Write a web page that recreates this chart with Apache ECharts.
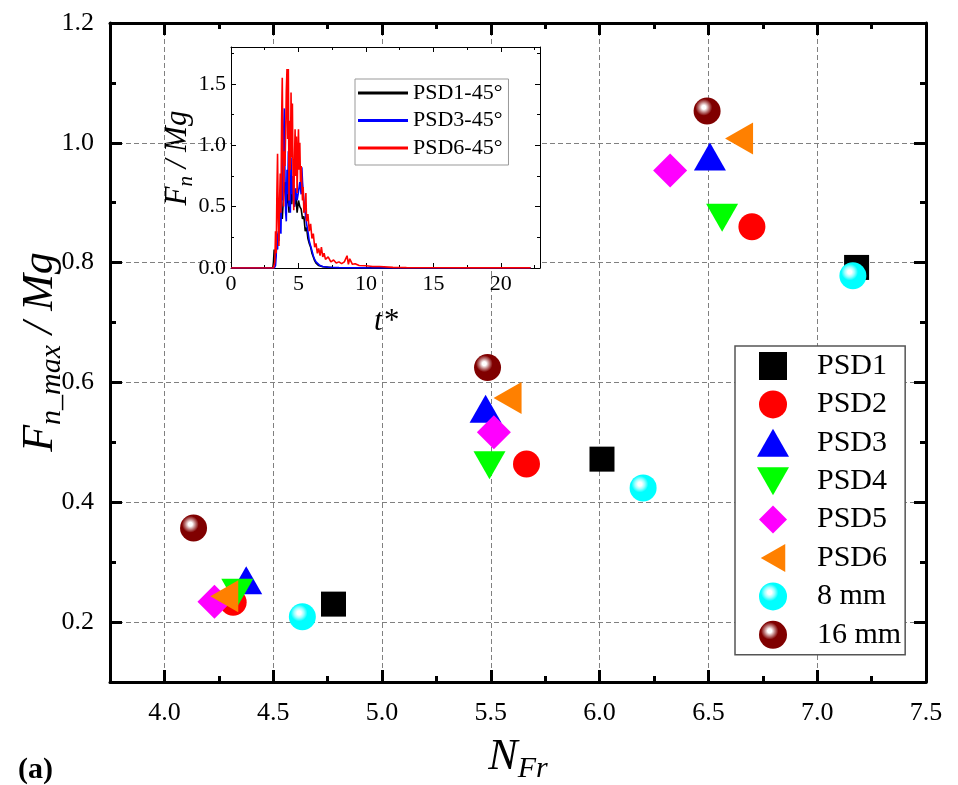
<!DOCTYPE html>
<html>
<head>
<meta charset="utf-8">
<script src="https://cdn.jsdelivr.net/npm/echarts@6/dist/echarts.min.js"></script>
<style>html,body{margin:0;padding:0;background:#fff}#c{width:958px;height:785px}</style>
</head>
<body>
<div id="c"></div>
<script>
// ---------- data ----------
const seriesNames = ['PSD1','PSD2','PSD3','PSD4','PSD5','PSD6','8 mm','16 mm'];
const psd1 = [[4.777,0.230],[6.011,0.472],[7.181,0.792]];
const psd2 = [[4.316,0.233],[5.664,0.464],[6.700,0.860]];
const psd3 = [[4.376,0.270],[5.476,0.556],[6.507,0.977]];
const psd4 = [[4.335,0.249],[5.494,0.462],[6.563,0.875]];
const psd5 = [[4.230,0.234],[5.514,0.517],[6.324,0.954]];
const psd6 = [[4.275,0.243],[5.577,0.574],[6.641,1.007]];
const d8mm = [[4.634,0.209],[6.200,0.424],[7.164,0.778]];
const d16mm = [[4.134,0.357],[5.485,0.625],[6.494,1.053]];

const xMajor = [4.0,4.5,5.0,5.5,6.0,6.5,7.0,7.5];
const xMinor = [3.75,4.25,4.75,5.25,5.75,6.25,6.75,7.25];
const yMajor = [0.2,0.4,0.6,0.8,1.0,1.2];
const yMinor = [0.1,0.3,0.5,0.7,0.9,1.1];

const insetNames = ['PSD1-45°','PSD3-45°','PSD6-45°'];
const insetXMajor = [0,5,10,15,20];
const insetXMinor = [2.5,7.5,12.5,17.5,22.5];
const insetYMajor = [0,0.5,1.0,1.5];
const insetYMinor = [0.25,0.75,1.25,1.75];

const curvePSD1 = [[0,0],[3.1,0],[3.15,0.05],[3.2,0.15],[3.25,0.04],[3.3,0.1],[3.4,0.18],[3.5,0.25],[3.6,0.35],[3.7,0.5],[3.8,0.4],[3.9,0.6],[4.0,0.7],[4.1,0.5],[4.2,0.62],[4.3,0.45],[4.4,0.68],[4.5,0.52],[4.6,0.67],[4.7,0.5],[4.8,0.6],[4.9,0.45],[5.0,0.55],[5.1,0.5],[5.2,0.48],[5.3,0.4],[5.4,0.42],[5.5,0.3],[5.6,0.33],[5.7,0.24],[5.8,0.2],[5.9,0.17],[6.0,0.12],[6.1,0.09],[6.2,0.06],[6.3,0.04],[6.5,0.02],[6.8,0.01],[7.5,0.003],[22.2,0]];
const curvePSD3 = [[0,0],[3.2,0],[3.3,0.02],[3.35,0.1],[3.4,0.28],[3.45,0.15],[3.5,0.3],[3.55,0.22],[3.6,0.5],[3.65,0.35],[3.7,0.28],[3.75,0.62],[3.8,0.9],[3.85,0.55],[3.9,1.1],[3.95,1.3],[4.0,0.75],[4.05,0.45],[4.1,0.38],[4.15,0.8],[4.2,0.6],[4.25,0.95],[4.3,0.5],[4.35,0.7],[4.4,0.45],[4.45,0.9],[4.5,0.6],[4.55,0.75],[4.6,0.55],[4.65,0.68],[4.7,0.5],[4.8,0.65],[4.9,0.55],[5.0,0.62],[5.1,0.7],[5.2,0.6],[5.25,0.82],[5.3,0.7],[5.4,0.55],[5.5,0.45],[5.6,0.36],[5.7,0.3],[5.8,0.22],[5.9,0.18],[6.0,0.14],[6.1,0.1],[6.2,0.07],[6.3,0.05],[6.4,0.035],[6.6,0.02],[6.8,0.012],[7.2,0.006],[8,0.003],[10,0.001],[22.2,0]];
const curvePSD6 = [[0,0],[3.0,0],[3.15,0],[3.25,0.05],[3.3,0.3],[3.35,0.12],[3.4,0.6],[3.45,0.93],[3.5,0.4],[3.55,0.18],[3.6,0.55],[3.65,0.77],[3.7,0.45],[3.75,1.2],[3.8,1.55],[3.85,0.9],[3.9,0.5],[3.95,0.95],[4.0,0.83],[4.05,1.1],[4.1,1.45],[4.15,1.62],[4.2,1.05],[4.25,1.62],[4.3,0.55],[4.35,1.2],[4.4,0.8],[4.45,1.43],[4.5,0.9],[4.55,1.34],[4.6,0.7],[4.65,0.47],[4.7,0.85],[4.75,1.13],[4.8,0.75],[4.85,1.07],[4.9,0.61],[4.95,0.9],[5.0,1.13],[5.05,0.8],[5.1,1.02],[5.15,0.7],[5.2,0.83],[5.3,0.55],[5.35,0.66],[5.4,0.45],[5.5,0.5],[5.55,0.61],[5.6,0.38],[5.7,0.44],[5.8,0.3],[5.9,0.36],[6.0,0.24],[6.1,0.28],[6.2,0.17],[6.3,0.2],[6.4,0.12],[6.5,0.16],[6.6,0.1],[6.7,0.17],[6.8,0.09],[6.9,0.12],[7.0,0.07],[7.2,0.09],[7.4,0.05],[7.6,0.065],[7.8,0.04],[8.0,0.05],[8.2,0.035],[8.4,0.05],[8.6,0.1],[8.7,0.03],[8.8,0.075],[9.0,0.03],[9.2,0.035],[9.5,0.02],[10,0.018],[10.5,0.012],[11,0.012],[12,0.005],[13,0.003],[15,0.002],[18,0.001],[22.2,0.001]];

// ---------- styling ----------
const FONT = "'Liberation Serif','Times New Roman',serif";
function measure(text, font){
  const ctx = document.createElement('canvas').getContext('2d');
  ctx.font = font; return ctx.measureText(text).width;
}
function titleGroup(x, y, rot, parts){
  let total = 0;
  parts.forEach(p => { p.font = (p.bold?'bold ':'italic ') + p.s + 'px ' + FONT; p.w = measure(p.t, p.font); total += p.w; });
  let cur = -total/2;
  const children = parts.map(p => {
    const el = {type:'text', x: cur, y: p.dy||0, style:{text:p.t, font:p.font, fill:'#000', align:'left', verticalAlign:'middle'}};
    cur += p.w; return el;
  });
  return {type:'group', x:x, y:y, rotation:rot, children:children, z:100};
}
function ax(o){
  return {
    type:'value', gridIndex:o.g, position:o.pos, min:o.min, max:o.max, z:o.z||0,
    axisLine:{show:!!o.line, onZero:false, lineStyle:{color:'#000', width:o.lw||1}},
    axisTick:{show:true, inside:true, length:o.len, customValues:o.ticks, lineStyle:{color:'#000', width:o.tw}},
    axisLabel:{show:!!o.labels, customValues:o.ticks, margin:o.margin||8, formatter:o.fmt, color:'#000', fontFamily:FONT, fontSize:o.fs||22},
    splitLine:{show:!!o.split, lineStyle:{color:'#808080', type:[5,3], width:1}},
    minorTick:{show:false}, minorSplitLine:{show:false}, splitArea:{show:false}
  };
}
const f1 = v => v.toFixed(1);
const f0 = v => String(v);

const xAxes = [
  ax({g:0,pos:'bottom',min:3.75,max:7.5,ticks:xMajor,line:true,lw:3,len:12,tw:3,labels:true,fmt:f1,fs:26,margin:18,split:true}),
  ax({g:0,pos:'bottom',min:3.75,max:7.5,ticks:xMinor,len:6,tw:3}),
  ax({g:0,pos:'top',min:3.75,max:7.5,ticks:xMajor,line:true,lw:3,len:12,tw:3}),
  ax({g:0,pos:'top',min:3.75,max:7.5,ticks:xMinor,len:6,tw:3}),
  ax({g:1,pos:'bottom',min:0,max:22.9,ticks:insetXMajor,line:true,lw:1,len:5,tw:1,labels:true,fmt:f0,fs:22,margin:5,z:6}),
  ax({g:1,pos:'bottom',min:0,max:22.9,ticks:insetXMinor,len:3,tw:1,z:6}),
  ax({g:1,pos:'top',min:0,max:22.9,ticks:insetXMajor,line:true,lw:1,len:5,tw:1,z:6}),
  ax({g:1,pos:'top',min:0,max:22.9,ticks:insetXMinor,len:3,tw:1,z:6})
];
const yAxes = [
  ax({g:0,pos:'left',min:0.1,max:1.2,ticks:yMajor,line:true,lw:3,len:12,tw:3,labels:true,fmt:f1,fs:26,margin:16,split:true}),
  ax({g:0,pos:'left',min:0.1,max:1.2,ticks:yMinor,len:6,tw:3}),
  ax({g:0,pos:'right',min:0.1,max:1.2,ticks:yMajor,line:true,lw:3,len:12,tw:3}),
  ax({g:0,pos:'right',min:0.1,max:1.2,ticks:yMinor,len:6,tw:3}),
  ax({g:1,pos:'left',min:0,max:1.8,ticks:insetYMajor,line:true,lw:1,len:5,tw:1,labels:true,fmt:f1,fs:22,margin:5,z:6}),
  ax({g:1,pos:'left',min:0,max:1.8,ticks:insetYMinor,len:3,tw:1,z:6}),
  ax({g:1,pos:'right',min:0,max:1.8,ticks:insetYMajor,line:true,lw:1,len:5,tw:1,z:6}),
  ax({g:1,pos:'right',min:0,max:1.8,ticks:insetYMinor,len:3,tw:1,z:6})
];

function sphere(base, mid){
  return {type:'radial', x:0.38, y:0.36, r:0.62, colorStops:[
    {offset:0, color:'#ffffff'},{offset:0.12, color:'#ffffff'},{offset:0.3, color:mid},{offset:0.5, color:base},{offset:1, color:base}]};
}
function sc(name, data, symbol, size, color, rot){
  return {type:'scatter', name:name, data:data, xAxisIndex:0, yAxisIndex:0, symbol:symbol, symbolSize:size,
    symbolRotate:rot||0, symbolKeepAspect:true, itemStyle:{color:color, opacity:1}, z:3, silent:true};
}
function ln(name, data, color){
  return {type:'line', name:name, data:data, xAxisIndex:4, yAxisIndex:4, symbol:'none', showSymbol:false,
    lineStyle:{color:color, width:1.6}, itemStyle:{color:color}, z:7, silent:true};
}

const legendIcons = {
  'PSD1':'path://M0,0L25,0L25,25L0,25Z',
  'PSD3':'path://M16,0L32,28L0,28Z',
  'PSD4':'path://M0,0L32,0L16,28Z',
  'PSD5':'path://M17,0L34,17L17,34L0,17Z',
  'PSD6':'path://M28,0L28,32L0,16Z'
};
const mainLegendData = seriesNames.map(n => legendIcons[n] ? {name:n, icon:legendIcons[n]} : {name:n});

const option = {
  animation:false,
  backgroundColor:'#fff',
  grid:[
    {left:110, top:23, width:816, height:659, containLabel:false, outerBoundsMode:'none'},
    {left:231, top:47, width:309, height:221, containLabel:false, outerBoundsMode:'none', show:true, backgroundColor:'#fff', borderWidth:0, z:5}
  ],
  xAxis:xAxes,
  yAxis:yAxes,
  legend:[
    {orient:'vertical', left:735, top:346, itemWidth:78, itemHeight:28, itemGap:8.4, padding:[5,4,5,22],
     symbolKeepAspect:true, symbolRotate:0,
     borderColor:'#555', borderWidth:1.5, backgroundColor:'#fff', selectedMode:false, data:mainLegendData,
     textStyle:{fontFamily:FONT, fontSize:30, color:'#000', lineHeight:30}, z:10},
    {orient:'vertical', left:355, top:79, itemWidth:50, itemHeight:3, itemGap:5.5, padding:[3,6,6,3],
     icon:'rect', symbolKeepAspect:false,
     borderColor:'#999', borderWidth:1, backgroundColor:'#fff', selectedMode:false, data:insetNames,
     textStyle:{fontFamily:FONT, fontSize:22, color:'#000', lineHeight:22}, z:10}
  ],
  series:[
    sc('PSD1', psd1, 'rect', 25, '#000000'),
    sc('PSD2', psd2, 'circle', 27, '#ff0000'),
    sc('PSD3', psd3, 'triangle', [32,28], '#0000ff'),
    sc('PSD4', psd4, 'triangle', [32,28], '#00ff00', 180),
    sc('PSD5', psd5, 'diamond', [34,34], '#ff00ff'),
    sc('PSD6', psd6, 'triangle', [32,28], '#ff8000', 90),
    sc('8 mm', d8mm, 'circle', 27, sphere('#00ffff', '#99ffff')),
    sc('16 mm', d16mm, 'circle', 27, sphere('#800000', '#c08080')),
    ln('PSD1-45°', curvePSD1, '#000000'),
    ln('PSD3-45°', curvePSD3, '#0000ff'),
    ln('PSD6-45°', curvePSD6, '#ff0000')
  ],
  graphic:[
    titleGroup(40, 352, Math.PI/2, [{t:'F',s:44},{t:'n_max',s:30,dy:12},{t:' / Mg',s:44}]),
    titleGroup(518, 757, 0, [{t:'N',s:44},{t:'Fr',s:30,dy:12}]),
    titleGroup(178, 158, Math.PI/2, [{t:'F',s:31},{t:'n',s:21,dy:8},{t:' / Mg',s:31}]),
    titleGroup(386, 322, 0, [{t:'t*',s:31}]),
    {type:'text', left:18, top:755, z:100, style:{text:'(a)', font:'bold 30px '+FONT, fill:'#000'}}
  ]
};
const chart = echarts.init(document.getElementById('c'), null, {renderer:'canvas'});
chart.setOption(option);
</script>
</body>
</html>
